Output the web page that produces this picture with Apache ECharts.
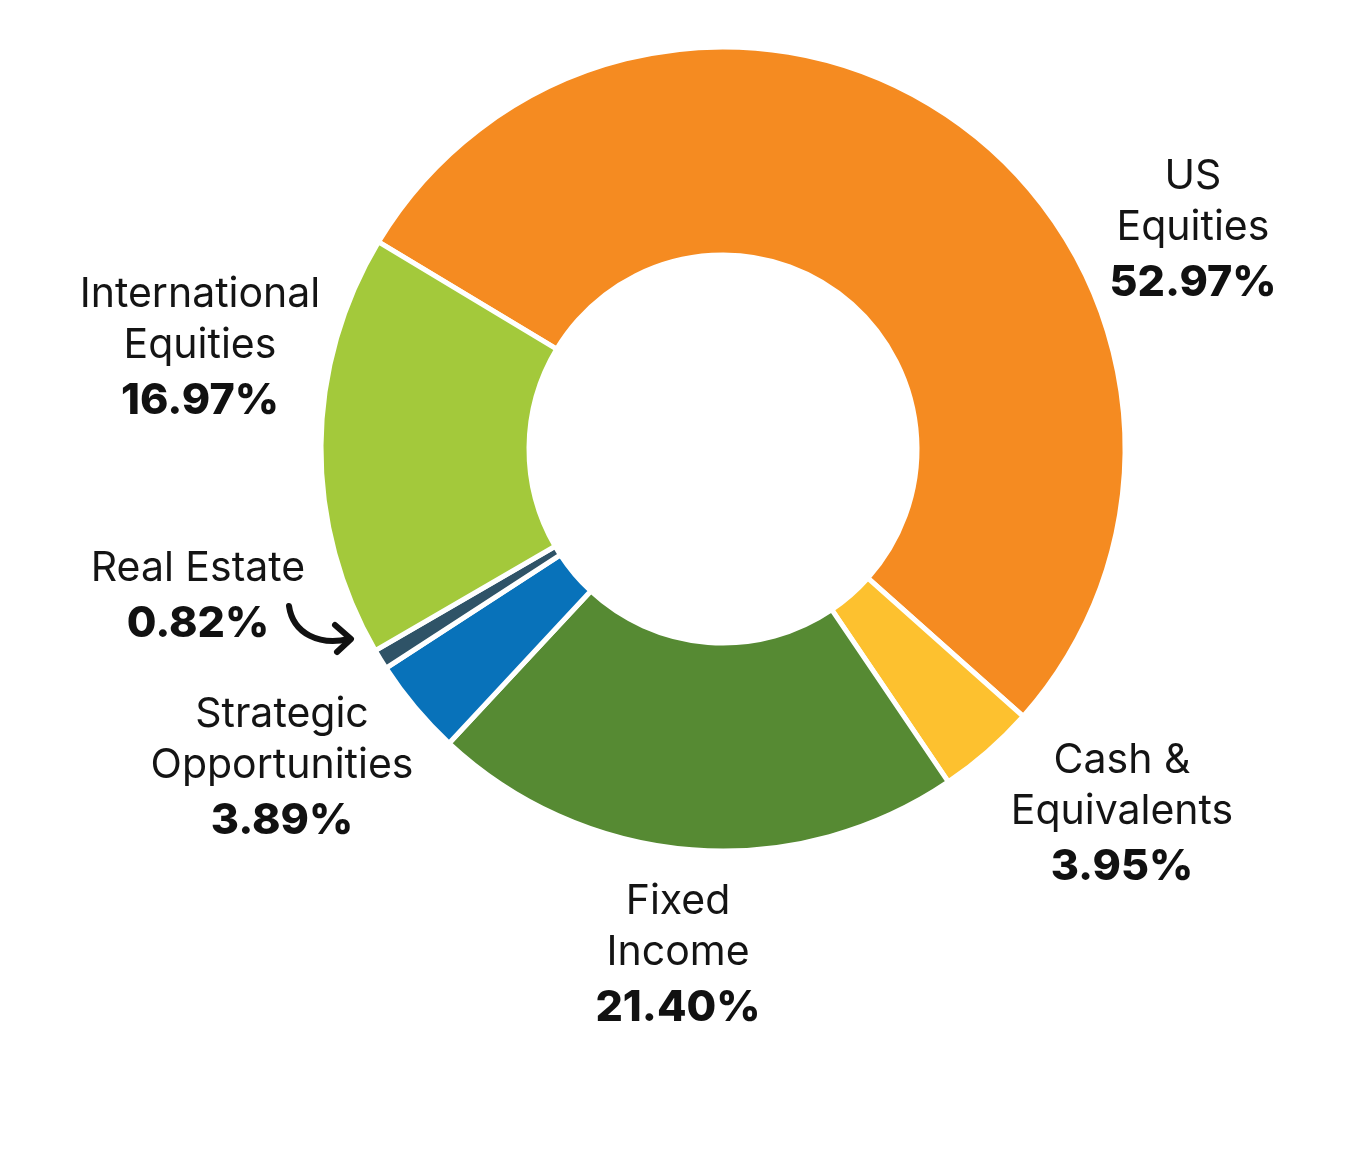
<!DOCTYPE html>
<html>
<head>
<meta charset="utf-8">
<script src="https://cdn.jsdelivr.net/npm/echarts@6/dist/echarts.min.js"></script>
<style>
  html, body { margin: 0; padding: 0; background: #fff; }
  #chart { width: 1352px; height: 1163px; }
</style>
</head>
<body>
<div id="chart"></div>
<script>
// asset allocation, clockwise from the upper-left split
const names = ['US\nEquities', 'Cash &\nEquivalents', 'Fixed\nIncome', 'Strategic\nOpportunities', 'Real Estate', 'International\nEquities'];
const shares = [52.97, 3.95, 21.40, 3.89, 0.82, 16.97];
const colors = ['#F58B21', '#FDC12F', '#568A33', '#0872BA', '#2F5367', '#A3C93B'];

// where each label block sits (centre of block)
const labelSpots = [[1193, 232], [1122, 816], [678, 957], [282, 770], [198, 599], [200, 350]];

var chart = echarts.init(document.getElementById('chart'));

var data = names.map(function (n, i) {
  return {
    name: n,
    value: shares[i],
    itemStyle: { color: colors[i] }
  };
});

var option = {
  animation: false,
  series: [{
    type: 'pie',
    center: [723, 449],
    radius: [194, 402],
    startAngle: 149,
    clockwise: true,
    data: data,
    itemStyle: {
      borderColor: '#fff',
      borderWidth: 5
    },
    label: {
      show: true,
      position: 'outside',
      formatter: function (p) {
        return p.name.split('\n').map(function (s) { return '{n|' + s + '}'; }).join('\n') +
          '\n{v|' + p.value.toFixed(2) + '%}';
      },
      rich: {
        n: { fontFamily: 'Inter', fontSize: 41, lineHeight: 51, color: '#141414', align: 'center' },
        v: { fontFamily: 'Inter', fontSize: 43, fontWeight: 800, lineHeight: 60, color: '#111', align: 'center' }
      }
    },
    labelLine: { show: false },
    labelLayout: function (params) {
      var s = labelSpots[params.dataIndex];
      return { x: s[0], y: s[1], align: 'center', verticalAlign: 'middle', hideOverlap: false };
    },
    emphasis: { disabled: true }
  }],
  graphic: [{
    type: 'bezierCurve',
    shape: { x1: 289, y1: 606, cpx1: 293, cpy1: 634, cpx2: 320, cpy2: 646, x2: 349, y2: 639 },
    style: { stroke: '#111', lineWidth: 6, fill: null, lineCap: 'round' }
  }, {
    type: 'polyline',
    shape: { points: [[335, 625], [351, 639], [337, 652]] },
    style: { stroke: '#111', lineWidth: 6, fill: null, lineCap: 'round', lineJoin: 'round' }
  }]
};

chart.setOption(option);
</script>
</body>
</html>
